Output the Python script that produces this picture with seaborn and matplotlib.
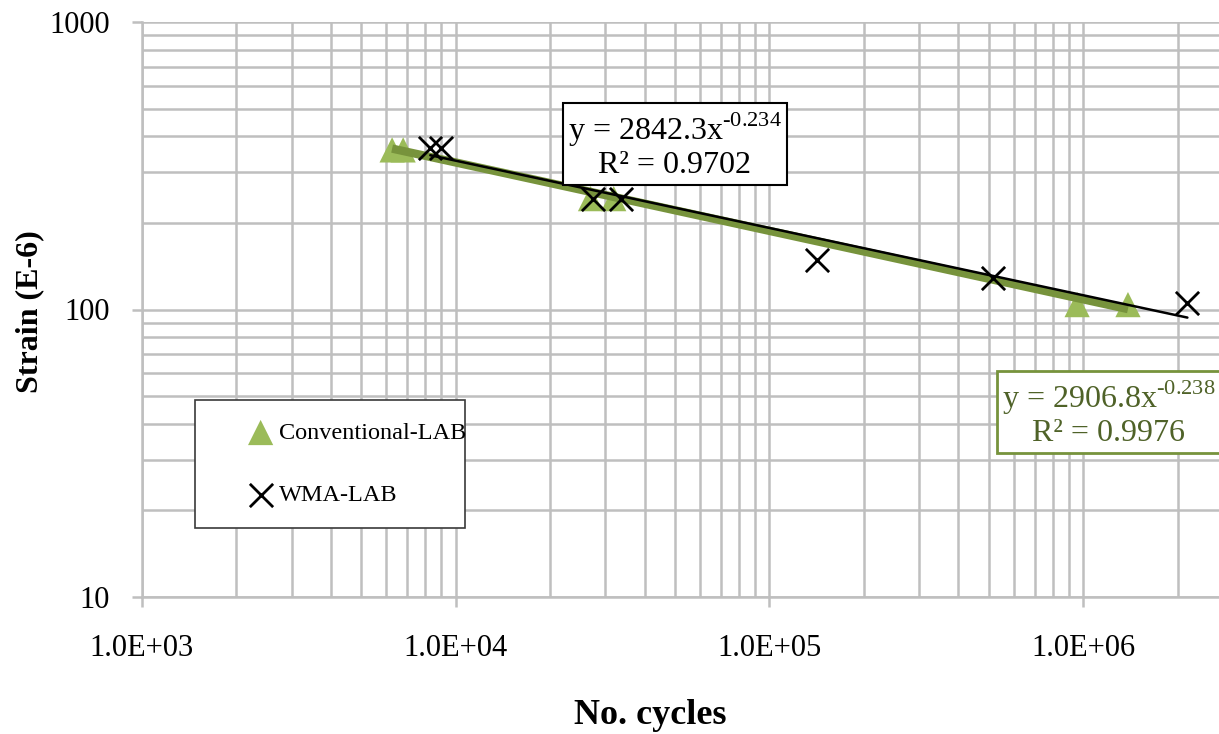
import numpy as np
import pandas as pd
import seaborn as sns
import matplotlib.pyplot as plt
from matplotlib.ticker import FuncFormatter, LogLocator, NullFormatter

conv_cycles = [6270, 6800, 26900, 31900, 957000, 1390000]
conv_strain = [359, 359, 243, 243, 104, 104]
wma_cycles = [8300, 8950, 27400, 33600, 142000, 516000, 2150000]
wma_strain = [365, 365, 243, 243, 149, 129, 105]

# power trendline coefficients shown on the chart
conv_a, conv_b, conv_r2 = 2906.8, -0.238, 0.9976
wma_a, wma_b, wma_r2 = 2842.3, -0.234, 0.9702

sns.set_style("ticks")
plt.rcParams['font.family'] = ['Liberation Serif', 'DejaVu Serif']
plt.rcParams['mathtext.fontset'] = 'custom'
plt.rcParams['mathtext.rm'] = 'Liberation Serif'
for k in ['text.color', 'axes.labelcolor', 'xtick.labelcolor', 'ytick.labelcolor']:
    plt.rcParams[k] = 'black'

W, H = 1219, 734
fig = plt.figure(figsize=(W / 100, H / 100), dpi=100)
ax = fig.add_axes([142 / W, 1 - 597 / H, 1 - 142 / W, (597 - 22) / H])

conv = pd.DataFrame({'cycles': conv_cycles, 'strain': conv_strain})
wma = pd.DataFrame({'cycles': wma_cycles, 'strain': wma_strain})

sns.scatterplot(data=conv, x='cycles', y='strain', marker='^', s=330,
                color='#9bbb59', edgecolor='none', label='Conventional-LAB',
                ax=ax, zorder=3)

# trendlines (straight on log-log), spanning each series
cx = np.array([min(conv_cycles), max(conv_cycles)], dtype=float)
ax.plot(cx, conv_a * cx ** conv_b, color='#77933c', lw=6,
        solid_capstyle='butt', zorder=4)

sns.scatterplot(data=wma, x='cycles', y='strain', marker='x', s=280,
                color='black', linewidth=2, label='WMA-LAB', ax=ax, zorder=5)

wx = np.array([min(wma_cycles), max(wma_cycles)], dtype=float)
ax.plot(wx, wma_a * wx ** wma_b, color='black', lw=1.8, zorder=6)

ax.set_xscale('log')
ax.set_yscale('log')
ax.set_xlim(1e3, 10 ** (3 + (W - 142) / 313.7))
ax.set_ylim(10, 1000)

ax.xaxis.set_major_locator(LogLocator(base=10, numticks=10))
ax.xaxis.set_minor_locator(LogLocator(base=10, subs=np.arange(2, 10), numticks=20))
ax.yaxis.set_minor_locator(LogLocator(base=10, subs=np.arange(2, 10), numticks=20))
ax.xaxis.set_major_formatter(FuncFormatter(lambda v, p: f"{v:.1E}"))
ax.yaxis.set_major_formatter(FuncFormatter(lambda v, p: f"{v:g}"))
ax.xaxis.set_minor_formatter(NullFormatter())
ax.yaxis.set_minor_formatter(NullFormatter())

ax.grid(True, which='both', color='#bfbfbf', lw=1.8)
ax.set_axisbelow(True)
for s in ['top', 'right']:
    ax.spines[s].set_visible(False)
for s in ['left', 'bottom']:
    ax.spines[s].set_color('#bfbfbf')
    ax.spines[s].set_linewidth(1.8)
ax.tick_params(which='major', length=7, width=1.8, color='#bfbfbf',
               labelsize=22, labelcolor='black')
ax.tick_params(axis='x', pad=20)
ax.tick_params(axis='y', pad=16)
ax.tick_params(which='minor', length=0)

ax.set_xlabel('No. cycles', fontsize=26, fontweight='bold', va='center',
              color='black')
ax.xaxis.set_label_coords((650 - 142) / 1077, (597 - 716) / 575)
ax.set_ylabel('Strain (E-6)', fontsize=23, fontweight='bold', va='center',
              color='black')
ax.yaxis.set_label_coords((30 - 142) / 1077, (597 - 312) / 575)

leg = ax.legend(loc='upper left',
                bbox_to_anchor=(195 / W, 1 - 400 / H - 0.01, 270 / W, 0.01),
                bbox_transform=fig.transFigure, mode='expand', fontsize=17.5,
                frameon=True, fancybox=False, edgecolor='#3a3a3a', framealpha=1,
                borderpad=0.9, labelspacing=1.65, handlelength=3.6,
                handletextpad=-1.05, borderaxespad=0)
leg.get_frame().set_linewidth(1.2)
for t in leg.get_texts():
    t.set_color('black')

fig.text(675 / W, 1 - 145 / H,
         f"y = {wma_a}x$^{{‐{abs(wma_b)}}}$\nR² = {wma_r2}",
         fontsize=23, ha='center', va='center', ma='center', color='black',
         linespacing=1.1,
         bbox=dict(boxstyle='square,pad=0.15', fc='white', ec='black', lw=1.5),
         zorder=10)
fig.text(1002 / W, 1 - 413 / H,
         f"y = {conv_a}x$^{{‐{abs(conv_b)}}}$\nR² = {conv_r2}",
         fontsize=23, ha='left', va='center', ma='center', color='#4f6228',
         linespacing=1.1,
         bbox=dict(boxstyle='square,pad=0.15', fc='white', ec='#77933c', lw=2),
         zorder=10)

fig.savefig('out.png', dpi=100)
